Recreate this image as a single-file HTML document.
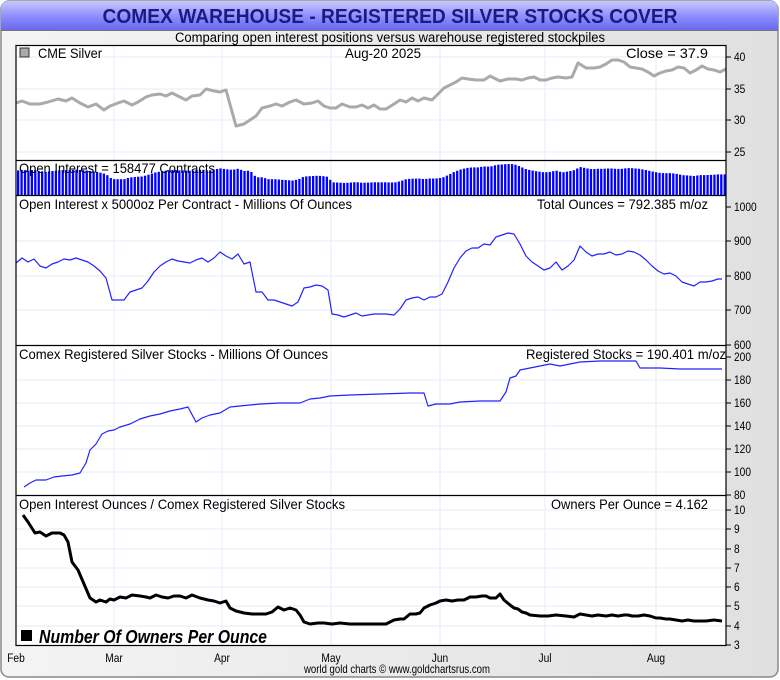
<!DOCTYPE html>
<html><head><meta charset="utf-8"><style>
html,body{margin:0;padding:0;width:780px;height:680px;overflow:hidden;background:#fff}
svg{display:block}
text{font-family:"Liberation Sans",sans-serif}
</style></head><body>
<svg id="s" width="780" height="680" viewBox="0 0 780 680" xmlns="http://www.w3.org/2000/svg">
<defs>
<linearGradient id="tg" x1="0" y1="0" x2="0" y2="1"><stop offset="0" stop-color="#c8c8ff"/><stop offset="0.5" stop-color="#9090ff"/><stop offset="1" stop-color="#6868ee"/></linearGradient>
<linearGradient id="bg" x1="0" y1="0" x2="1" y2="0"><stop offset="0" stop-color="#f4f4f4"/><stop offset="1" stop-color="#e0e0e0"/></linearGradient>
</defs>
<rect x="0" y="0" width="780" height="680" fill="#fff"/>
<rect x="1" y="1" width="777" height="676" rx="8" fill="url(#bg)" stroke="#888" stroke-width="1.5"/>
<path d="M1,30 L1,9 Q1,1 9,1 L770,1 Q778,1 778,9 L778,30 Z" fill="url(#tg)"/>
<line x1="1" y1="30.5" x2="778" y2="30.5" stroke="#777"/>
<text x="390" y="23" text-anchor="middle" font-size="20" font-weight="bold" fill="#1a1a80" textLength="575" lengthAdjust="spacingAndGlyphs">COMEX WAREHOUSE - REGISTERED SILVER STOCKS COVER</text>
<text x="390" y="42" text-anchor="middle" font-size="13.5" fill="#000" textLength="430" lengthAdjust="spacingAndGlyphs">Comparing open interest positions versus warehouse registered stockpiles</text>
<rect x="16" y="45" width="710" height="600" fill="#fff"/>
<g id="grid" stroke="#e4eef8" stroke-width="1"></g>
<g id="data"></g>
<g stroke="#000" stroke-width="1.2" fill="none">
<rect x="16" y="45.5" width="710" height="600"/>
<line x1="16" y1="160.5" x2="726" y2="160.5"/>
<line x1="16" y1="195.5" x2="726" y2="195.5"/>
<line x1="16" y1="345.5" x2="726" y2="345.5"/>
<line x1="16" y1="495.5" x2="726" y2="495.5"/>
</g>
<g id="ax" fill="#000"></g>
<g font-size="14" fill="#000" lengthAdjust="spacingAndGlyphs">
<rect x="20" y="48" width="9" height="9" fill="#aaa" stroke="#333" stroke-width="1"/>
<text x="38" y="58" textLength="64" lengthAdjust="spacingAndGlyphs">CME Silver</text>
<text x="345" y="58" textLength="76" lengthAdjust="spacingAndGlyphs">Aug-20  2025</text>
<text x="626" y="58" textLength="82" lengthAdjust="spacingAndGlyphs">Close = 37.9</text>
<text x="19" y="173" textLength="196" lengthAdjust="spacingAndGlyphs">Open Interest = 158477 Contracts</text>
<text x="19" y="209" textLength="333" lengthAdjust="spacingAndGlyphs">Open Interest x 5000oz Per Contract - Millions Of Ounces</text>
<text x="537" y="209" textLength="171" lengthAdjust="spacingAndGlyphs">Total Ounces = 792.385 m/oz</text>
<text x="19" y="359" textLength="309" lengthAdjust="spacingAndGlyphs">Comex Registered Silver Stocks - Millions Of Ounces</text>
<text x="526" y="359" textLength="200" lengthAdjust="spacingAndGlyphs">Registered Stocks = 190.401 m/oz</text>
<text x="19" y="509" textLength="326" lengthAdjust="spacingAndGlyphs">Open Interest Ounces / Comex Registered Silver Stocks</text>
<text x="551" y="509" textLength="157" lengthAdjust="spacingAndGlyphs">Owners Per Ounce = 4.162</text>
<rect x="21" y="630" width="11" height="11" fill="#000"/>
<text x="39" y="643" font-size="18" font-weight="bold" font-style="italic" textLength="228" lengthAdjust="spacingAndGlyphs">Number Of Owners Per Ounce</text>
<text x="304" y="673" font-size="12" textLength="186" lengthAdjust="spacingAndGlyphs">world gold charts © www.goldchartsrus.com</text>
</g>
</svg>
<script>
(function(){
var NS="http://www.w3.org/2000/svg";
function el(p,t,a,txt){var e=document.createElementNS(NS,t);for(var k in a)e.setAttribute(k,a[k]);if(txt!==undefined)e.textContent=txt;p.appendChild(e);return e;}
var grid=document.getElementById('grid'),data=document.getElementById('data'),ax=document.getElementById('ax');
var months=[["Feb",16],["Mar",114],["Apr",222],["May",331],["Jun",440],["Jul",545],["Aug",656]];
months.forEach(function(m){if(m[1]>16)el(grid,'line',{x1:m[1],y1:45,x2:m[1],y2:645});el(ax,'text',{x:m[1],y:662,'text-anchor':'middle','font-size':12,'transform':'translate('+m[1]+',0) scale(0.85,1) translate('+(-m[1])+',0)'},m[0]);});
function ticks(list){list.forEach(function(t){if(t[2])el(grid,'line',{x1:16,y1:t[1],x2:726,y2:t[1]});el(ax,'line',{x1:726,y1:t[1],x2:731,y2:t[1],stroke:'#000'});el(ax,'text',{x:734,y:t[1]+4,'font-size':12,'transform':'translate(734,0) scale(0.85,1) translate(-734,0)'},t[0]);});}
ticks([[40,57,1],[35,89,1],[30,120,1],[25,152,1]]);
ticks([[1000,207,0],[900,241,1],[800,276,1],[700,310,1],[600,345,0]]);
ticks([[200,357,0],[180,380,1],[160,403,1],[140,426,1],[120,449,1],[100,472,1],[80,495,0]]);
ticks([[10,510,1],[9,529,1],[8,549,1],[7,568,1],[6,587,1],[5,606,1],[4,626,1],[3,645,0]]);
function pl(pts,c,w){el(data,'polyline',{points:pts.map(function(p){return p.join(',')}).join(' '),fill:'none',stroke:c,'stroke-width':w,'stroke-linejoin':'round'});}
var silver=[[16,103],[22,101],[30,104],[40,104],[48,102],[58,99],[66,101],[72,98],[80,103],[88,107],[96,104],[104,110],[110,106],[118,103],[124,101],[132,105],[138,102],[146,97],[152,95],[160,94],[166,96],[172,93],[178,96],[186,100],[192,96],[200,95],[206,89],[214,91],[220,92],[226,90],[236,126],[244,124],[250,120],[256,116],[262,108],[270,106],[276,104],[282,106],[290,102],[296,100],[304,104],[312,103],[318,101],[324,106],[330,108],[336,108],[342,104],[350,107],[356,107],[362,105],[368,108],[374,105],[380,109],[386,109],[394,104],[400,100],[406,102],[412,98],[418,101],[424,98],[432,100],[438,94],[444,88],[450,85],[456,82],[462,78],[468,79],[476,80],[484,80],[490,76],[496,79],[500,81],[508,79],[516,79],[522,80],[528,78],[534,77],[540,80],[546,80],[552,78],[558,77],[566,78],[572,77],[578,63],[586,68],[594,68],[600,67],[606,64],[612,60],[618,60],[624,62],[630,67],[636,68],[642,69],[648,72],[654,76],[660,73],[666,71],[672,70],[678,67],[684,68],[690,73],[696,70],[702,66],[708,69],[714,70],[720,72],[726,69]];
pl(silver,'#aaa',3);
var oi=[[16,263],[22,258],[28,262],[34,259],[40,266],[46,268],[52,264],[58,262],[64,259],[70,260],[76,258],[82,260],[88,262],[94,266],[100,271],[106,278],[112,300],[118,300],[124,300],[130,292],[136,290],[142,288],[148,281],[154,272],[160,266],[166,262],[172,259],[178,261],[184,262],[190,263],[196,260],[202,258],[208,262],[214,258],[220,252],[226,256],[232,259],[238,254],[244,264],[250,262],[256,292],[262,292],[268,300],[274,300],[280,302],[286,304],[292,306],[298,302],[304,288],[310,287],[316,285],[322,286],[328,290],[332,314],[338,315],[344,317],[350,315],[356,313],[362,316],[368,315],[374,314],[380,314],[386,314],[394,315],[400,309],[406,300],[412,298],[418,297],[424,300],[430,297],[436,297],[442,294],[448,282],[454,268],[460,258],[466,251],[472,248],[478,248],[484,244],[490,245],[496,237],[502,235],[508,233],[514,234],[520,244],[526,256],[532,262],[538,266],[544,270],[550,268],[556,262],[562,270],[568,266],[574,260],[580,246],[586,252],[592,256],[598,254],[604,254],[610,252],[616,255],[622,254],[628,251],[634,252],[640,255],[646,260],[652,266],[658,271],[664,274],[670,273],[676,276],[682,282],[688,284],[694,286],[700,282],[706,282],[712,281],[718,279],[722,279]];
pl(oi,'#2222ff',1.2);
function interp(pts,x){for(var i=1;i<pts.length;i++){if(x<=pts[i][0]){var a=pts[i-1],b=pts[i];return a[1]+(b[1]-a[1])*(x-a[0])/(b[0]-a[0]);}}return pts[pts.length-1][1];}
for(var x=17;x<724;x+=3.43){var yy=interp(oi,x+1);var tp=183-(317-yy)/(317-233)*(183-164);el(data,'rect',{x:x.toFixed(2),y:tp.toFixed(1),width:2.3,height:(195-tp).toFixed(1),fill:'#0000ff'});}
var reg=[[24,487],[30,483],[36,480],[46,480],[54,477],[62,476],[72,475],[80,473],[86,463],[90,450],[96,444],[102,434],[108,431],[114,430],[120,427],[130,424],[140,419],[150,416],[160,414],[170,411],[180,409],[188,407],[196,422],[202,418],[210,415],[220,413],[230,407],[240,406],[250,405],[260,404],[280,403],[300,403],[310,399],[320,398],[330,396],[350,395],[380,394],[410,393],[424,393],[428,406],[436,404],[450,404],[460,402],[480,401],[500,401],[506,392],[510,378],[516,376],[520,370],[530,368],[540,366],[550,364],[560,366],[580,362],[600,361],[620,361],[636,361],[640,368],[660,368],[680,369],[700,369],[722,369]];
pl(reg,'#2222ff',1.2);
var own=[[23,515],[28,522],[35,533],[40,532],[46,536],[52,533],[60,533],[64,535],[68,542],[72,562],[78,570],[84,584],[90,598],[96,602],[100,600],[106,602],[110,599],[114,600],[120,597],[126,598],[132,595],[140,596],[146,597],[150,598],[156,595],[162,597],[168,598],[174,596],[180,596],[186,598],[192,595],[200,598],[208,600],[214,601],[220,603],[226,601],[230,608],[236,611],[244,613],[252,614],[260,614],[266,614],[272,612],[278,607],[284,610],[290,608],[296,610],[300,615],[304,622],[310,624],[318,623],[324,623],[332,624],[340,623],[350,624],[360,624],[374,624],[380,624],[386,624],[390,622],[394,620],[400,619],[404,619],[410,614],[416,614],[420,613],[424,608],[430,605],[436,603],[440,601],[446,600],[452,601],[458,600],[464,600],[470,597],[476,597],[482,596],[486,596],[490,598],[496,598],[500,594],[504,600],[510,605],[514,608],[518,609],[522,612],[526,613],[530,615],[540,616],[548,616],[556,615],[566,616],[574,617],[580,614],[586,615],[592,616],[598,615],[606,616],[612,615],[618,616],[624,615],[628,615],[632,616],[638,616],[644,615],[650,616],[656,618],[660,618],[666,619],[670,619],[676,620],[682,621],[688,620],[694,621],[700,621],[706,621],[714,620],[722,621]];
pl(own,'#000',3);
})();
</script>
</body></html>
